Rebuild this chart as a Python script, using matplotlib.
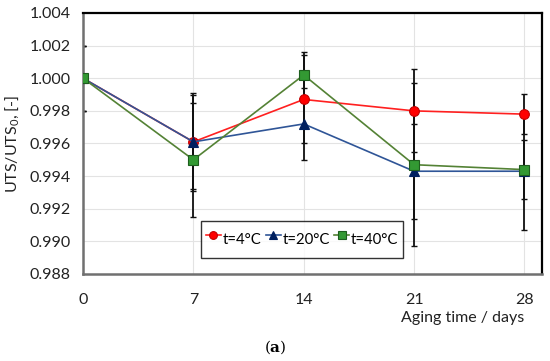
import numpy as np
import matplotlib.pyplot as plt

plt.rcParams['font.family'] = ['Lato', 'DejaVu Sans']
plt.rcParams['mathtext.fontset'] = 'custom'
plt.rcParams['mathtext.rm'] = 'Lato'
plt.rcParams['mathtext.bf'] = 'DejaVu Serif:bold'

days = [0, 7, 14, 21, 28]

uts_4 = [1.0000, 0.9961, 0.9987, 0.9980, 0.9978]
uts_20 = [1.0000, 0.9961, 0.9972, 0.9943, 0.9943]
uts_40 = [1.0000, 0.9950, 1.0002, 0.9947, 0.9944]

err_4 = [0.0020, 0.0029, 0.0027, 0.00255, 0.00124]
err_20 = [0.0020, 0.0030, 0.0022, 0.0029, 0.0036]
err_40 = [0.0020, 0.0035, 0.0014, 0.0050, 0.0018]

labels = ['t=4°C', 't=20°C', 't=40°C']

fig = plt.figure(figsize=(5.5, 3.61), dpi=100)
ax = fig.add_axes([0.151, 0.241, 0.834, 0.723])

series = [
    (uts_4, err_4, labels[0], '#ff2020', 'o', '#ff0000', '#c00000', 7),
    (uts_20, err_20, labels[1], '#2f5597', '^', '#002060', '#002060', 7.5),
    (uts_40, err_40, labels[2], '#548235', 's', '#339933', '#1e5e1e', 7),
]

for y, e, lab, lc, mk, mfc, mec, ms in series:
    ax.errorbar(days, y, yerr=e, fmt='none', ecolor='#111111', elinewidth=1.3,
                capsize=2.5, capthick=1.0, zorder=2)
    ax.plot(days, y, color=lc, lw=1.2, marker=mk, ms=ms, mfc=mfc, mec=mec,
            mew=0.8, label=lab, zorder=3)

ax.set_xlim(0, 29.1)
ax.set_ylim(0.988, 1.004)
ax.set_xticks(days)
yt = np.arange(0.988, 1.0041, 0.002)
ax.set_yticks(yt)
ax.set_yticklabels(['%.3f' % v for v in yt])
ax.grid(True, color='#e3e3e3', lw=0.8)
ax.set_axisbelow(True)
ax.tick_params(length=0, labelsize=11.5, colors='#222222')
ax.tick_params(axis='x', pad=14)
ax.tick_params(axis='y', pad=9)

for s in ['top', 'right']:
    ax.spines[s].set_color('black')
    ax.spines[s].set_linewidth(1.6)
for s in ['left', 'bottom']:
    ax.spines[s].set_color('#707070')
    ax.spines[s].set_linewidth(1.8)

ax.set_ylabel('UTS/UTS$_0$, [-]', fontsize=11.5, color='#222222', labelpad=5)
fig.text(0.842, 0.108, 'Aging time / days', ha='center', fontsize=11.5, color='#222222')
fig.text(0.5, 0.025, '($\\mathbf{a}$)', ha='center', fontsize=11, family='DejaVu Serif')

leg = ax.legend(loc='lower left', bbox_to_anchor=(0.258, 0.061), ncol=3,
                fontsize=10.7, frameon=True, fancybox=False, edgecolor='black',
                handlelength=1.0, handletextpad=0.12, columnspacing=0.3,
                borderpad=0.3, handleheight=2.5, borderaxespad=0, markerscale=0.8)
leg.get_frame().set_linewidth(1.0)

fig.savefig('out.png', dpi=100)
